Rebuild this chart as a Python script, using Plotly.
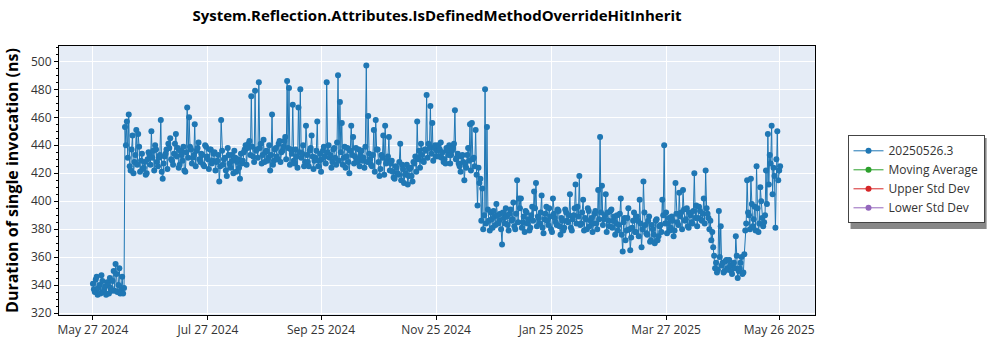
import pandas as pd
import plotly.graph_objects as go

start_date = "2024-05-27"
# first run of each day
values = [
    341, 335, 346, 338, 334, 343, 337, 333, 340, 345,
    336, 350, 355, 335, 352, 337, 334,
    453, 457, 462, 422, 447, 428, 451, 448, 421, 434,
    424, 419, 430, 433, 450, 436, 440, 428, 431, 458,
    416, 432, 437, 441, 445, 429, 434, 448, 438, 426,
    433, 439, 421, 467, 460, 437, 431, 455, 436, 442,
    428, 433, 425, 439, 430, 437, 427, 434, 422, 429,
    414, 458, 426, 431, 418, 433, 424, 429, 436, 421,
    430, 416, 427, 435, 440, 438, 443, 475, 432, 479,
    437, 485, 441, 433, 428, 436, 431, 422, 462, 429,
    438, 430, 443, 435, 439, 446, 486, 481, 437, 469,
    427, 432, 467, 480, 434, 425, 454, 428, 436, 447,
    423, 431, 457, 429, 421, 436, 432, 485, 440, 433,
    428, 438, 426, 490, 471, 456, 431, 424, 438, 420,
    454, 446, 432, 428, 437, 433, 429, 424, 497, 461,
    430, 425, 451, 458, 437, 418, 433, 447, 454, 429,
    446, 427, 421, 416, 424, 419, 441, 426, 413, 420,
    412, 423, 418, 428, 432, 457, 436, 441, 429, 437,
    476, 441, 468, 456, 438, 432, 440, 437, 431, 428,
    427, 436, 440, 433, 438, 465, 431, 427, 421, 433,
    415, 424, 438, 455, 456, 431, 451, 397, 413, 386,
    380, 480, 453, 386, 392, 381, 389, 398, 384, 391,
    369, 388, 395, 383, 391, 386, 399, 380, 415, 402,
    402, 385, 378, 392, 387, 381, 396, 407, 413, 389,
    384, 404, 377, 391, 386, 395, 380, 402, 388, 383,
    393, 376, 386, 381, 392, 385, 405, 379, 390, 412,
    396, 418, 384, 401, 388, 380, 393, 386, 378, 391,
    384, 408, 446, 411, 387, 405, 392, 382, 394, 386,
    376, 390, 383, 402, 364, 388, 379, 395, 365, 381,
    392, 378, 386, 401, 367, 414, 383, 376, 389, 372,
    380, 370, 387, 375, 383, 401, 440, 392, 384, 379,
    389, 375, 413, 385, 406, 392, 408, 386, 395, 381,
    390, 384, 420, 397, 388, 393, 386, 402, 422, 391,
    380, 372, 367, 352, 349, 393, 382, 356, 350, 358,
    351, 354, 348, 356, 375, 345, 352, 360, 349, 379,
    415, 390, 416, 382, 396, 425, 378, 410, 388, 385,
    422, 448, 433, 454, 424, 381, 450, 422,
]
# second run of each day
values_second = [
    337, 344, 333, 340, 347, 335, 339, 342, 334, 338,
    343, 336, 348, 340, 334, 346, 338,
    440, 431, 425, 437, 420, 433, 426, 439, 429, 423,
    428, 420, 435, 426, 431, 422, 437, 425, 433, 421,
    427, 434, 423, 438, 430, 426, 441, 432, 424, 436,
    429, 422, 435, 431, 439, 427, 433, 425, 438, 430,
    434, 426, 440, 432, 423, 437, 429, 435, 428, 433,
    425, 436, 430, 422, 438, 427, 433, 420, 431, 428,
    424, 434, 429, 437, 426, 441, 433, 439, 428, 436,
    431, 438, 427, 444, 435, 429, 440, 433, 426, 437,
    432, 441, 428, 436, 443, 430, 438, 426, 434, 429,
    437, 424, 435, 431, 440, 428, 433, 425, 438, 432,
    429, 436, 425, 434, 430, 439, 427, 435, 431, 424,
    437, 431, 442, 429, 435, 426, 439, 432, 428, 436,
    433, 427, 438, 430, 425, 436, 431, 439, 428, 434,
    426, 433, 421, 437, 428, 423, 431, 419, 427, 432,
    422, 429, 417, 425, 420, 428, 415, 423, 419, 426,
    418, 424, 414, 427, 421, 430, 424, 433, 428, 436,
    431, 438, 434, 429, 440, 436, 432, 442, 435, 430,
    438, 433, 427, 436, 441, 430, 434, 425, 432, 428,
    426, 433, 429, 422, 430, 425, 419, 424, 416, 409,
    390, 384, 394, 379, 387, 393, 383, 390, 386, 380,
    392, 384, 389, 379, 394, 387, 382, 391, 385, 395,
    381, 389, 393, 384, 379, 390, 386, 395, 382, 388,
    392, 381, 387, 396, 383, 389, 378, 391, 385, 394,
    382, 388, 379, 394, 386, 390, 381, 387, 395, 384,
    389, 383, 392, 379, 387, 395, 382, 388, 384, 393,
    380, 387, 392, 383, 390, 378, 386, 393, 381, 389,
    384, 379, 391, 376, 385, 372, 388, 380, 374, 386,
    378, 389, 375, 384, 380, 392, 377, 386, 371, 383,
    376, 386, 372, 382, 378, 390, 384, 377, 388, 381,
    386, 379, 391, 383, 389, 380, 394, 387, 382, 392,
    385, 393, 388, 382, 396, 387, 391, 384, 395, 388,
    386, 378, 361, 356, 351, 360, 354, 349, 357, 352,
    358, 350, 355, 352, 361, 350, 356, 348, 362, 384,
    392, 380, 398, 387, 379, 395, 384, 400, 382, 390,
    398, 412, 427, 405, 418, 430, 415, 425,
]
tick_dates = ["2024-05-27", "2024-07-27", "2024-09-25", "2024-11-25",
              "2025-01-25", "2025-03-27", "2025-05-26"]
tick_labels = ["May 27 2024", "Jul 27 2024", "Sep 25 2024", "Nov 25 2024",
               "Jan 25 2025", "Mar 27 2025", "May 26 2025"]
series_names = ["20250526.3", "Moving Average", "Upper Std Dev", "Lower Std Dev"]
series_colors = ["#1f77b4", "#2ca02c", "#d62728", "#9467bd"]

days = pd.date_range(start=start_date, periods=len(values), freq="D")
xs, ys = [], []
for d, v1, v2 in zip(days, values, values_second):
    xs.append(d)
    ys.append(v1)
    xs.append(d + pd.Timedelta(hours=12))
    ys.append(v2)

fig = go.Figure()
fig.add_trace(go.Scatter(
    x=xs, y=ys, mode="lines+markers", name=series_names[0],
    line=dict(color=series_colors[0], width=1),
    marker=dict(color=series_colors[0], size=6),
    error_y=dict(type="constant", value=1.2, color="rgba(31,119,180,0.6)",
                 thickness=1, width=2),
))
for name, col in zip(series_names[1:], series_colors[1:]):
    fig.add_trace(go.Scatter(
        x=[None], y=[None], mode="lines+markers", name=name,
        line=dict(color=col, width=1), marker=dict(color=col, size=6),
    ))

font_family = "Open Sans, Noto Sans, sans-serif"
fig.update_layout(
    width=1000, height=350,
    margin=dict(l=54, r=185, t=46, b=30),
    plot_bgcolor="#e5ecf6", paper_bgcolor="white",
    font=dict(family=font_family, size=12, color="#333"),
    title=dict(text="<b>System.Reflection.Attributes.IsDefinedMethodOverrideHitInherit</b>",
               x=0.5, xref="paper", xanchor="center", y=0.955, yanchor="middle",
               font=dict(size=15, color="black")),
    showlegend=True,
    legend=dict(x=1.043, y=0.668, xanchor="left", yanchor="top",
                bgcolor="white", bordercolor="#444", borderwidth=1,
                font=dict(size=12, color="#333"), tracegroupgap=0,
                itemwidth=30),
    shapes=[dict(type="rect", xref="paper", yref="paper",
                 x0=1.047, x1=1.227, y0=0.32, y1=0.658,
                 fillcolor="#888", line=dict(width=0), layer="below")],
)
fig.update_xaxes(
    type="date",
    range=["2024-05-09", "2025-06-14"],
    tickvals=tick_dates, ticktext=tick_labels,
    showgrid=True, gridcolor="white", gridwidth=1,
    showline=True, linecolor="black", linewidth=1, mirror=True,
    ticks="outside", ticklen=4, tickcolor="black",
    tickfont=dict(size=12, color="#333"), zeroline=False,
)
fig.update_yaxes(
    range=[318.6, 511],
    tickmode="linear", tick0=320, dtick=20,
    showgrid=True, gridcolor="white", gridwidth=1,
    showline=True, linecolor="black", linewidth=1, mirror=True,
    ticks="outside", ticklen=4, tickcolor="black",
    minor=dict(dtick=5, ticks="outside", ticklen=2, tickcolor="black", showgrid=False),
    tickfont=dict(size=12, color="#333"), zeroline=False,
    title=dict(text="<b>Duration of single invocation (ns)</b>",
               font=dict(size=16, color="black"), standoff=8),
)

fig.write_html("out.html")
